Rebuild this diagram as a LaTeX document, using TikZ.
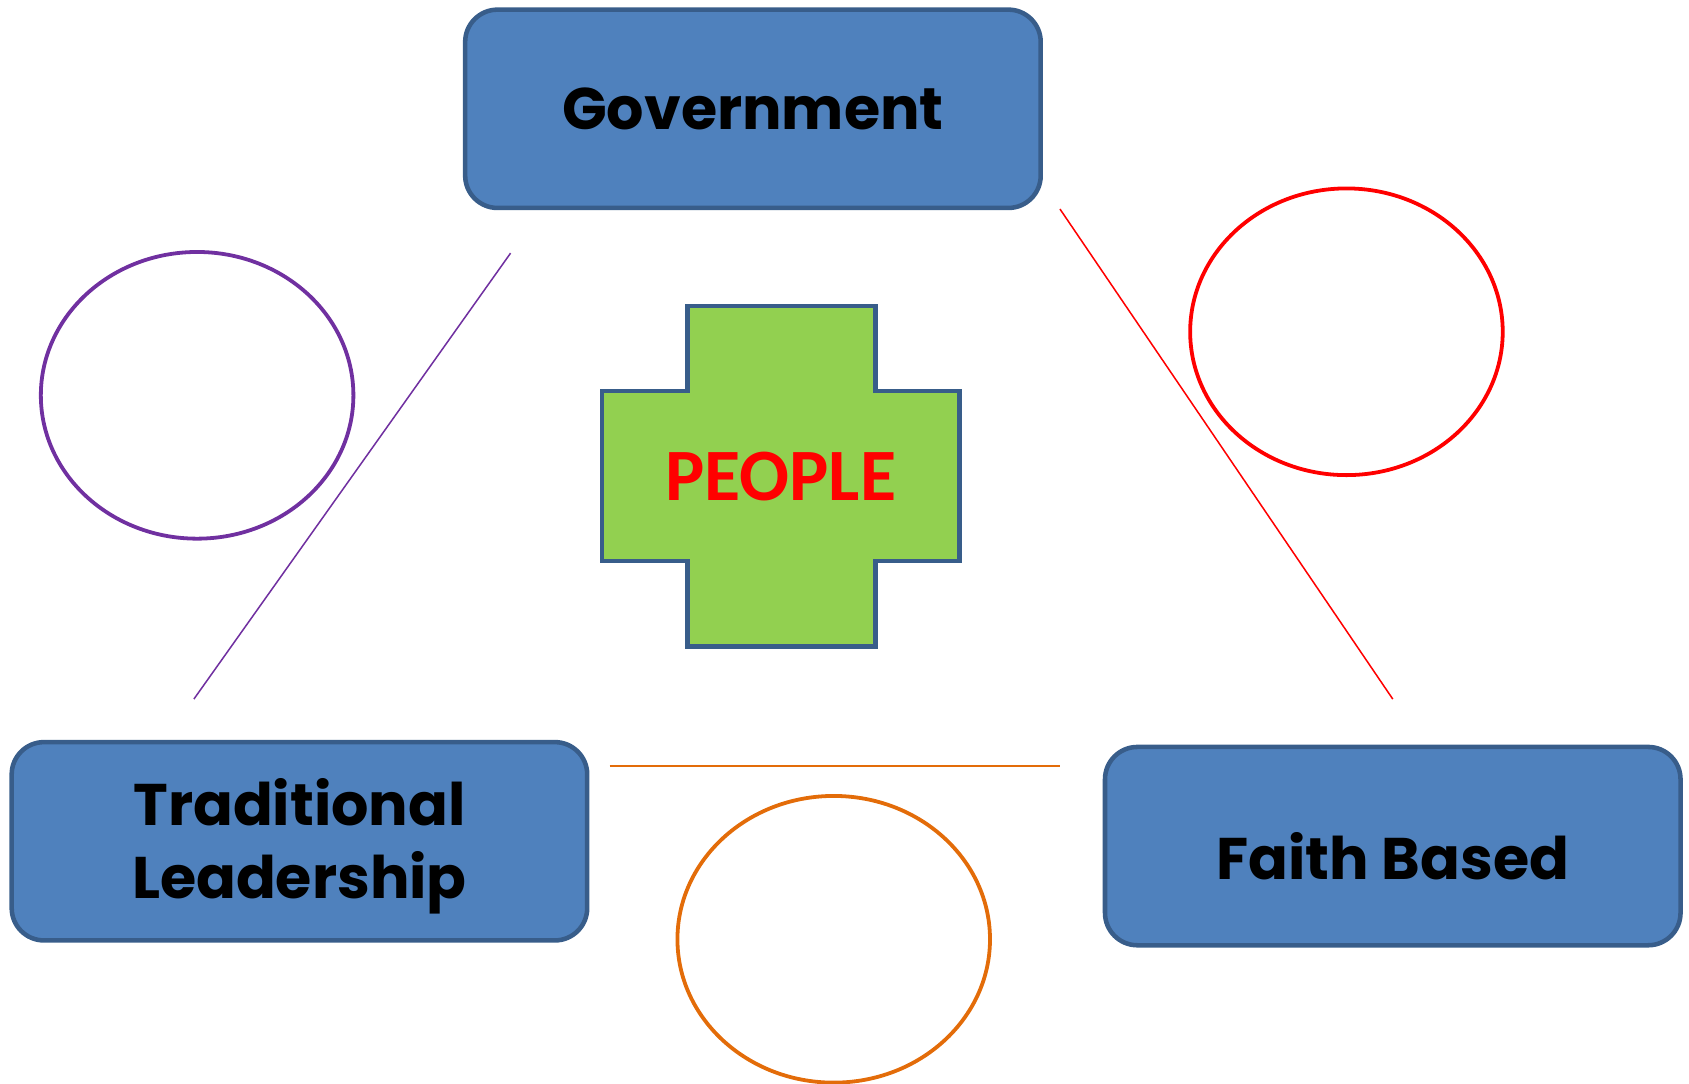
\documentclass[tikz,border=0pt]{standalone}
\usepackage{fontspec}
\setmainfont{Poppins}
\newfontfamily\peoplefont{Carlito}
\usetikzlibrary{shapes}
\usetikzlibrary{positioning}
\definecolor{boxblue}{HTML}{4F81BD}
\definecolor{boxedge}{HTML}{385D8A}
\definecolor{crossgreen}{HTML}{92D050}
\definecolor{ringpurple}{HTML}{7030A0}
\definecolor{ringorange}{HTML}{E36C09}
\tikzset{
    boxnode/.style = {rectangle, rounded corners=0.3cm, line width=1.2pt, draw=boxedge, fill=boxblue, align=center, minimum width=5.34cm, minimum height=1.84cm, font=\bfseries\fontsize{15.5}{19.3}\selectfont, text=black},
    crossnode/.style = {line width=1.2pt, draw=boxedge, fill=crossgreen},
    peoplenode/.style = {font=\peoplefont\bfseries\fontsize{19.5}{24}\selectfont, text=red},
    ringp/.style = {ellipse, line width=1pt, draw=ringpurple, minimum width=2.9cm, minimum height=2.66cm},
    ringr/.style = {ellipse, line width=1pt, draw=red, minimum width=2.9cm, minimum height=2.66cm},
    ringo/.style = {ellipse, line width=1pt, draw=ringorange, minimum width=2.9cm, minimum height=2.66cm},
    edgep/.style = {-, line width=0.4pt, ringpurple}, % left side
    edger/.style = {-, line width=0.4pt, red}, % right side
    edgeo/.style = {-, line width=0.6pt, ringorange} % bottom side
}
\newcommand{\lowertext}[2]{\raisebox{0pt}[\dimexpr\height+#1\relax][\depth]{#2}}

\begin{document}
\begin{tikzpicture}[x=0.01cm, y=-0.01cm]
  \useasboundingbox (0,0) rectangle (1568,1006);

  % the three partners
  \node[boxnode] (gov) at (699,101) {Government};
  \node[boxnode] (trad) at (278,781) {\lowertext{0.12cm}{\begin{tabular}{@{}c@{}}Traditional\\Leadership\end{tabular}}};
  \node[boxnode] (faith) at (1293,785.5) {\lowertext{0.18cm}{Faith Based}};

  % centre
  \draw[crossnode] (638,284) -- (813,284) -- (813,363) -- (891,363) -- (891,521)
    -- (813,521) -- (813,600) -- (638,600) -- (638,521) -- (559,521)
    -- (559,363) -- (638,363) -- cycle;
  \node[peoplenode] (people) at (725,442) {PEOPLE};

  \node[ringp] (ringgovtrad) at (183,367) {};
  \node[ringr] (ringgovfaith) at (1250,308) {};
  \node[ringo] (ringtradfaith) at (774,872) {};

  \coordinate (pa) at (474,235);
  \coordinate (pb) at (180,649);
  \coordinate (ra) at (984,194);
  \coordinate (rb) at (1293,649);
  \coordinate (oa) at (566,711);
  \coordinate (ob) at (984,711);
  \draw[edgep] (pa) -- (pb);
  \draw[edger] (ra) -- (rb);
  \draw[edgeo] (oa) -- (ob);
\end{tikzpicture}
\end{document}
